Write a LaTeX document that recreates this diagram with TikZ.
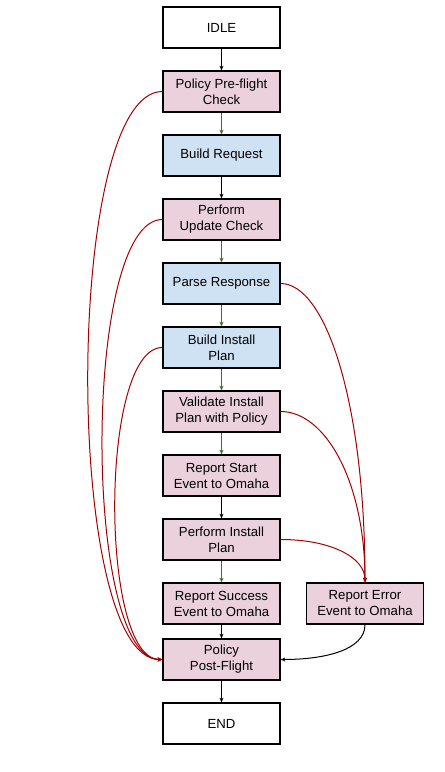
\documentclass[tikz,border=0pt]{standalone}
\usepackage{fontspec}
\setmainfont{Liberation Sans}
\usetikzlibrary{arrows.meta}
\definecolor{pinkf}{HTML}{EAD1DC}
\definecolor{bluef}{HTML}{CFE2F3}
\definecolor{redl}{HTML}{A50000}
\definecolor{greenl}{HTML}{38761D}
\begin{document}
\begin{tikzpicture}[x=0.75pt,y=-0.75pt,
  box/.style={draw=black,line width=1pt,minimum width=87.75pt,minimum height=30.75pt,
    align=center,font=\fontsize{9.9pt}{12pt}\selectfont,inner sep=1pt},
  wbox/.style={box,fill=white},
  pbox/.style={box,fill=pinkf},
  bbox/.style={box,fill=bluef},
  arr/.style={line width=0.75pt,-{Stealth[length=3.5pt,width=3pt]}},
  blk/.style={arr,draw=black},
  grn/.style={arr,draw=greenl},
  red/.style={arr,draw=redl}]
\useasboundingbox (0,0) rectangle (444,772);
\node[wbox] (idle) at (221.5,27.5) {IDLE};
\node[pbox] (pre) at (221.5,91.5) {Policy Pre-flight\\Check};
\node[bbox] (breq) at (221.5,155.5) {Build Request};
\node[pbox] (puc) at (221.5,219.5) {Perform\\Update Check};
\node[bbox] (parse) at (221.5,283.5) {Parse Response};
\node[bbox] (bip) at (221.5,347.5) {Build Install\\Plan};
\node[pbox] (val) at (221.5,411.5) {Validate Install\\Plan with Policy};
\node[pbox] (rs) at (221.5,475.5) {Report Start\\Event to Omaha};
\node[pbox] (pi) at (221.5,539.5) {Perform Install\\Plan};
\node[pbox] (succ) at (221.5,603.5) {Report Success\\Event to Omaha};
\node[pbox] (err) at (365,603.5) {Report Error\\Event to Omaha};
\node[pbox] (post) at (221.5,659.5) {Policy\\Post-Flight};
\node[wbox] (end) at (221.5,723.5) {END};
% vertical arrows
\draw[blk] (idle) -- (pre);
\draw[grn] (pre) -- (breq);
\draw[blk] (breq) -- (puc);
\draw[grn] (puc) -- (parse);
\draw[grn] (parse) -- (bip);
\draw[grn] (bip) -- (val);
\draw[grn] (val) -- (rs);
\draw[blk] (rs) -- (pi);
\draw[grn] (pi) -- (succ);
\draw[blk] (succ) -- (post);
\draw[blk] (post) -- (end);
% left failure curves
\draw[red] (pre.west) .. controls +(-99,0) and +(-99,0) .. (post.west);
\draw[red] (puc.west) .. controls +(-80,0) and +(-80,0) .. (post.west);
\draw[red] (bip.west) .. controls +(-63,0) and +(-63,0) .. (post.west);
% right failure curves
\draw[red] (parse.east) .. controls +(45,0) and +(0,-180) .. (err.north);
\draw[red] (val.east) .. controls +(45,0) and +(0,-100) .. (err.north);
\draw[red] (pi.east) .. controls +(50,0) and +(0,-25) .. (err.north);
% error to post-flight
\draw[blk] (err.south) .. controls +(0,25) and +(45,0) .. (post.east);
\end{tikzpicture}
\end{document}
